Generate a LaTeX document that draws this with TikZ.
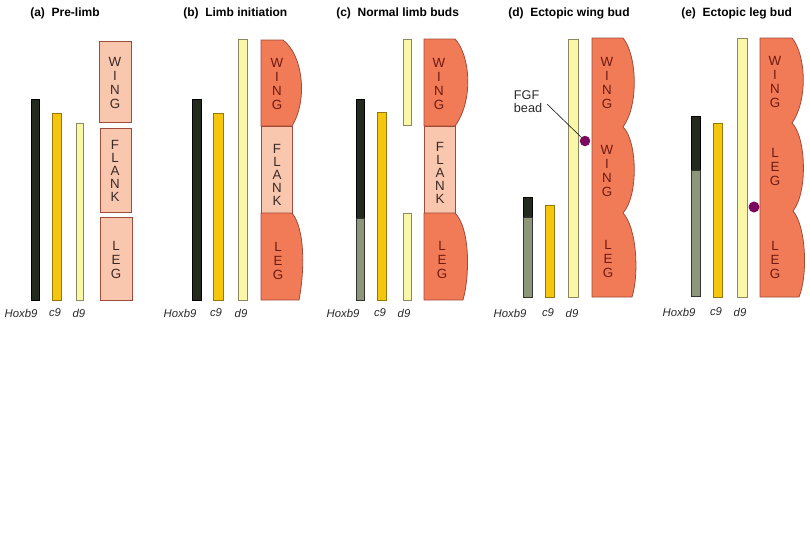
\documentclass[tikz,border=0pt]{standalone}
\usepackage{fontspec}
\setmainfont{Liberation Sans}
\definecolor{limbC}{HTML}{F27B57}
\definecolor{limbE}{HTML}{A04A3A}
\definecolor{flankC}{HTML}{F9C6AE}
\definecolor{hoxD}{HTML}{252A1E}
\definecolor{hoxG}{HTML}{8E967A}
\definecolor{cnine}{HTML}{F5C60C}
\definecolor{dnine}{HTML}{FBF7A8}
\definecolor{beadC}{HTML}{7A0A5E}
\definecolor{lettR}{HTML}{6E1A12}
\definecolor{lettD}{HTML}{3A2A28}
\definecolor{labC}{HTML}{2A2A2A}
\begin{document}
\begin{tikzpicture}[x=0.75pt,y=-0.75pt,
  hoxdark/.style={fill=hoxD,draw=black,line width=0.4pt},
  hoxgrey/.style={fill=hoxG,draw=black!80,line width=0.4pt},
  cbar/.style={fill=cnine,draw=cnine!60!black,line width=0.4pt},
  dbar/.style={fill=dnine,draw=dnine!55!black,line width=0.4pt},
  limb/.style={fill=limbC,draw=limbE,line width=0.6pt},
  flank/.style={fill=flankC,draw=limbE,line width=0.6pt},
  titletext/.style={anchor=west,font=\bfseries\fontsize{9}{11}\selectfont,text=black,inner sep=0pt},
  genelab/.style={font=\itshape\fontsize{8.5}{10}\selectfont,text=labC,inner sep=0pt},
  lettersR/.style={align=center,inner sep=0pt,text=lettR,font=\fontsize{10}{10.7}\selectfont},
  lettersD/.style={align=center,inner sep=0pt,text=lettD,font=\fontsize{10}{10.7}\selectfont},
  flankletters/.style={align=center,inner sep=0pt,text=lettD,font=\fontsize{10}{9.6}\selectfont},
  bead/.style={circle,fill=beadC,inner sep=0pt,minimum size=10.5pt*0.75}
]
\fill[white] (0,0) rectangle (810,540);
\useasboundingbox (0,0) rectangle (810,540);

% ---------- (a) Pre-limb ----------
\node[titletext] (ta) at (30,13) {(a)\hspace{5pt}Pre-limb};
\draw[hoxdark] (31,99) rectangle (39,300);
\draw[cbar] (52,113) rectangle (61,300);
\draw[dbar] (76,123) rectangle (83,300);
\draw[flank] (99,41) rectangle (131,122);
\draw[flank] (100,128) rectangle (131,212);
\draw[flank] (100,217) rectangle (132,300);
\node[lettersD] (aw) at (115,83) {W\\I\\N\\G};
\node[flankletters] (af) at (115,171) {F\\L\\A\\N\\K};
\node[lettersD] (al) at (116,260) {L\\E\\G};
\node[genelab] (ah) at (21,313) {Hoxb9};
\node[genelab] (ac) at (55,313) {c9};
\node[genelab] (ad) at (79,313) {d9};

% ---------- (b) Limb initiation ----------
\node[titletext] (tb) at (183,13) {(b)\hspace{5pt}Limb initiation};
\draw[hoxdark] (192,99) rectangle (201,300);
\draw[cbar] (213,113) rectangle (223,300);
\draw[dbar] (238,39) rectangle (247,300);
\draw[limb] (261,40) -- (283,40) .. controls (303,55) and (308,100) .. (292,126) -- (261,126) -- cycle;
\draw[flank] (261,126) rectangle (292,213);
\draw[limb] (261,213) -- (292,213) .. controls (306,230) and (304,275) .. (299,300) -- (261,300) -- cycle;
\node[lettersR] (bw) at (277,84) {W\\I\\N\\G};
\node[flankletters] (bf) at (277,175) {F\\L\\A\\N\\K};
\node[lettersR] (bl) at (278,261) {L\\E\\G};
\node[genelab] (bh) at (180,313) {Hoxb9};
\node[genelab] (bc) at (216,313) {c9};
\node[genelab] (bd) at (241,313) {d9};

% ---------- (c) Normal limb buds ----------
\node[titletext] (tc) at (336,13) {(c)\hspace{5pt}Normal limb buds};
\draw[hoxdark] (356,99) rectangle (364,218);
\draw[hoxgrey] (356,218) rectangle (364,300);
\draw[cbar] (377,112) rectangle (386,300);
\draw[dbar] (403,39) rectangle (411,125);
\draw[dbar] (403,213) rectangle (411,300);
\draw[limb] (424,39) -- (455,39) .. controls (470,55) and (474,100) .. (455,126) -- (424,126) -- cycle;
\draw[flank] (424,126) rectangle (455,213);
\draw[limb] (424,213) -- (455,213) .. controls (470,228) and (470,275) .. (463,300) -- (424,300) -- cycle;
\node[lettersR] (cw) at (439,84) {W\\I\\N\\G};
\node[flankletters] (cf) at (440,173) {F\\L\\A\\N\\K};
\node[lettersR] (cl) at (442,260) {L\\E\\G};
\node[genelab] (ch) at (343,313) {Hoxb9};
\node[genelab] (cc) at (380,313) {c9};
\node[genelab] (cd) at (404,313) {d9};

% ---------- (d) Ectopic wing bud ----------
\node[titletext] (td) at (508,13) {(d)\hspace{5pt}Ectopic wing bud};
\draw[hoxdark] (523,197) rectangle (532,217);
\draw[hoxgrey] (523,217) rectangle (532,297);
\draw[cbar] (545,205) rectangle (554,297);
\draw[dbar] (568,39) rectangle (578,297);
\draw[limb] (592,38) -- (623,38) .. controls (637,55) and (639,105) .. (623,127)
  .. controls (637,140) and (639,195) .. (623,213)
  .. controls (637,228) and (639,275) .. (632,297) -- (592,297) -- cycle;
\node[lettersR] (dw1) at (607,83) {W\\I\\N\\G};
\node[lettersR] (dw2) at (607,171) {W\\I\\N\\G};
\node[lettersR] (dl) at (608,259) {L\\E\\G};
\node[bead] (dbead) at (585,141) {};
\node[align=left,inner sep=0pt,font=\fontsize{9.5}{9.75}\selectfont,text=labC] (fgf) at (528,102) {FGF\\bead};
\coordinate (fgfend) at (547,104);
\draw[line width=0.5pt,black!85] (fgfend) -- (dbead.north west);
\node[genelab] (dh) at (510,313) {Hoxb9};
\node[genelab] (dc) at (548,313) {c9};
\node[genelab] (dd) at (572,313) {d9};

% ---------- (e) Ectopic leg bud ----------
\node[titletext] (te) at (681,13) {(e)\hspace{5pt}Ectopic leg bud};
\draw[hoxdark] (691,116) rectangle (700,170);
\draw[hoxgrey] (691,170) rectangle (700,296);
\draw[cbar] (713,123) rectangle (722,297);
\draw[dbar] (737,38) rectangle (747,297);
\draw[limb] (760,38) -- (792,38) .. controls (806,55) and (808,100) .. (792,123)
  .. controls (806,137) and (808,192) .. (793,211)
  .. controls (806,226) and (808,275) .. (799,297) -- (760,297) -- cycle;
\node[lettersR] (ew) at (775,82) {W\\I\\N\\G};
\node[lettersR] (el1) at (775,167) {L\\E\\G};
\node[lettersR] (el2) at (775,260) {L\\E\\G};
\node[bead,minimum size=11pt*0.75] (ebead) at (754,207) {};
\node[genelab] (eh) at (679,312) {Hoxb9};
\node[genelab] (ec) at (716,312) {c9};
\node[genelab] (ed) at (740,312) {d9};
\end{tikzpicture}
\end{document}
